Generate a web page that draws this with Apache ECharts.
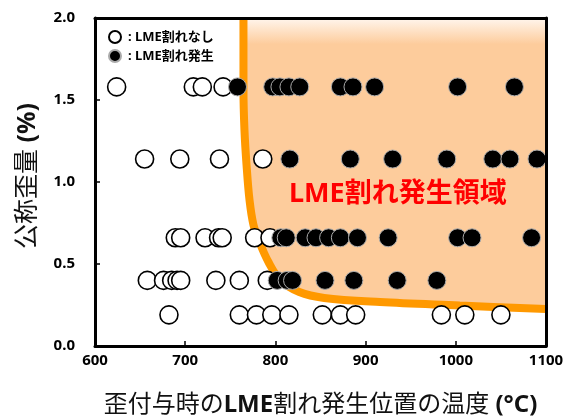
<!DOCTYPE html>
<html><head><meta charset="utf-8">
<script src="https://cdn.jsdelivr.net/npm/echarts@6/dist/echarts.min.js"></script>
<style>html,body{margin:0;padding:0;background:#fff}#c{width:568px;height:417px}</style>
</head><body><div id="c"></div>
<script>
// strain levels (%) of each row
const strainLevels = [1.58, 1.14, 0.66, 0.40, 0.19];
// temperatures (°C) of points without LME cracking, per row
const noCrackTemps = [
  [624, 709, 719, 742],
  [655, 694, 738, 786],
  [689, 695, 722, 737, 741, 777, 794],
  [658, 676, 685, 691, 695, 734, 760, 791],
  [682, 760, 779, 796, 815, 852, 872, 889, 984, 1010, 1050]
];
// temperatures (°C) of points with LME cracking, per row
const crackTemps = [
  [758, 797, 805, 815, 827, 872, 886, 910, 1002, 1065],
  [816, 883, 930, 990, 1041, 1060, 1090],
  [806, 812, 833, 845, 859, 872, 891, 925, 1002, 1018, 1084],
  [802, 813, 819, 855, 887, 935, 979],
  []
];
// boundary of LME cracking region
const boundaryTemp =   [764.6, 764.6, 765.7, 768.0, 771.3, 775.7, 782.3, 792.3, 805.5, 826.5, 854.1, 916.0, 1004.4, 1100];
const boundaryStrain = [2.0,   1.561, 1.317, 1.104, 0.890, 0.738, 0.634, 0.512, 0.402, 0.329, 0.293, 0.268, 0.247, 0.225];
const xTicks = [600, 700, 800, 900, 1000, 1100];
const yTicks = [0.0, 0.5, 1.0, 1.5, 2.0];

function rows(temps) {
  const out = [];
  temps.forEach((r, i) => r.forEach(t => out.push([t, strainLevels[i]])));
  return out;
}
const boundary = boundaryTemp.map((t, i) => [t, boundaryStrain[i]]);

const FF = "'Noto Sans', 'Noto Sans CJK JP', sans-serif";
const chart = echarts.init(document.getElementById('c'));
chart.setOption({
  animation: false,
  backgroundColor: '#fff',
  grid: { left: 95, right: 22, top: 18, bottom: 71, containLabel: false, outerBoundsMode: 'none' },
  legend: {
    orient: 'vertical', left: 103, top: 25, itemWidth: 12, itemHeight: 12, itemGap: 5,
    formatter: n => ': ' + n,
    textStyle: { fontFamily: FF, fontWeight: 'bold', fontSize: 13, color: '#000', padding: [0,0,0,2] },
    data: ['LME割れなし', 'LME割れ発生']
  },
  xAxis: [{
    type: 'value', min: xTicks[0], max: xTicks[xTicks.length - 1], interval: 100, z: 10,
    axisLine: { lineStyle: { color: '#000', width: 3 } },
    axisTick: { inside: true, length: 5, lineStyle: { color: '#000', width: 1.5 } },
    splitLine: { show: false },
    axisLabel: { margin: 7, fontFamily: FF, fontWeight: 'bold', fontSize: 15, color: '#000',
      formatter: v => String(v) },
    name: '歪付与時の{b|LME}割れ発生位置の温度 {b|(°C)}',
    nameLocation: 'middle', nameGap: 47,
    nameTextStyle: { fontFamily: FF, fontSize: 24, color: '#111',
      rich: { b: { fontFamily: FF, fontSize: 24, fontWeight: 'bold', color: '#111' } } }
  }, {
    type: 'value', position: 'top', min: 600, max: 1100, z: 10,
    axisLine: { show: true, onZero: false, lineStyle: { color: '#000', width: 3 } },
    axisTick: { show: false }, axisLabel: { show: false }, splitLine: { show: false }
  }],
  yAxis: [{
    type: 'value', min: yTicks[0], max: yTicks[yTicks.length - 1], interval: 0.5, z: 10,
    axisLine: { show: true, lineStyle: { color: '#000', width: 3 } },
    axisTick: { show: true, inside: true, length: 5, lineStyle: { color: '#000', width: 1.5 } },
    splitLine: { show: false },
    axisLabel: { margin: 20, fontFamily: FF, fontWeight: 'bold', fontSize: 15, color: '#000',
      formatter: v => v.toFixed(1) },
    name: '公称歪量 {b|(%)}',
    nameLocation: 'middle', nameGap: 55, nameRotate: 90,
    nameTextStyle: { fontFamily: FF, fontSize: 25, color: '#111', padding: [0, 0, 0, 12],
      rich: { b: { fontFamily: FF, fontSize: 25, fontWeight: 'bold', color: '#111' } } }
  }, {
    type: 'value', position: 'right', min: 0, max: 2, z: 10,
    axisLine: { show: true, onZero: false, lineStyle: { color: '#000', width: 3 } },
    axisTick: { show: false }, axisLabel: { show: false }, splitLine: { show: false }
  }],
  series: [{
    type: 'line', name: 'region', data: boundary, smooth: 0.35,
    symbol: 'none', z: 1, silent: true,
    lineStyle: { color: '#FF9900', width: 8 },
    areaStyle: { origin: 'end', opacity: 1,
      color: new echarts.graphic.LinearGradient(0, 0, 0, 1, [
        { offset: 0, color: '#FFF6EE' }, { offset: 0.09, color: '#FDCC9C' }, { offset: 1, color: '#FDCC9C' }]) }
  }, {
    type: 'scatter', name: 'LME割れなし', data: rows(noCrackTemps), symbolSize: 18, z: 3,
    itemStyle: { color: '#fff', borderColor: '#000', borderWidth: 1.6, opacity: 1 }
  }, {
    type: 'scatter', name: 'LME割れ発生', data: rows(crackTemps), symbolSize: 18, z: 4,
    itemStyle: { color: '#000', borderColor: '#aaa', borderWidth: 1, opacity: 1 }
  }],
  graphic: [{
    type: 'text', left: 289, top: 181, z: 20,
    style: { text: 'LME割れ発生領域', fill: '#FF0000', font: "bold 27px 'Noto Sans', 'Noto Sans CJK JP', sans-serif" }
  }]
});
</script></body></html>
